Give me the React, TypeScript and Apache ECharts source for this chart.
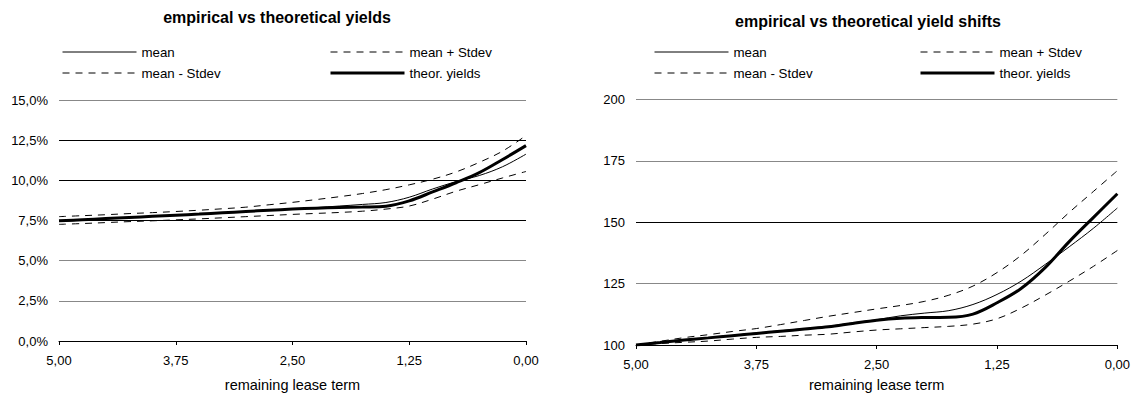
import { useEffect, useRef } from "react";
import * as echarts from "echarts";

// Remaining lease term (years), plotted from 5 down to 0
const term = [5, 4.75, 4.5, 4.25, 4, 3.75, 3.5, 3.25, 3, 2.75, 2.5, 2.25, 2, 1.75, 1.5, 1.25, 1, 0.75, 0.5, 0.25, 0];

// Yields in percent
const yieldMean = [7.44, 7.52, 7.6, 7.67, 7.75, 7.82, 7.89, 7.97, 8.05, 8.13, 8.21, 8.3, 8.4, 8.5, 8.62, 8.95, 9.46, 9.92, 10.3, 10.85, 11.63];
const yieldUpper = [7.74, 7.8, 7.86, 7.93, 7.99, 8.06, 8.14, 8.23, 8.33, 8.48, 8.63, 8.8, 8.98, 9.18, 9.42, 9.72, 10.07, 10.52, 11.12, 11.82, 12.79];
const yieldLower = [7.26, 7.31, 7.37, 7.43, 7.48, 7.54, 7.6, 7.67, 7.74, 7.81, 7.88, 7.94, 8.0, 8.08, 8.21, 8.4, 8.83, 9.32, 9.73, 10.15, 10.55];
const yieldTheor = [7.48, 7.55, 7.62, 7.69, 7.76, 7.83, 7.9, 7.98, 8.06, 8.14, 8.21, 8.27, 8.31, 8.34, 8.39, 8.72, 9.28, 9.85, 10.48, 11.3, 12.16];

// Yield shifts, indexed to 100 at a remaining term of 5 years
const shiftMean = [100, 101.0, 102.0, 103.0, 103.9, 104.9, 105.8, 106.7, 107.6, 109.0, 110.3, 111.9, 113.0, 114.0, 116.5, 120.6, 126.0, 132.8, 140.0, 147.5, 155.8];
const shiftUpper = [100, 101.5, 103.0, 104.2, 105.5, 106.7, 108.3, 110.0, 111.7, 113.2, 114.7, 116.1, 117.8, 120.3, 124.0, 129.5, 136.5, 145.0, 154.0, 162.5, 171.0];
const shiftLower = [100, 100.6, 101.1, 101.6, 102.4, 103.1, 103.5, 104.0, 104.4, 105.3, 106.1, 106.6, 107.1, 107.6, 108.5, 110.7, 115.0, 120.3, 126.0, 132.0, 138.5];
const shiftTheor = [100, 101.0, 102.0, 102.9, 103.8, 104.7, 105.6, 106.5, 107.4, 108.8, 110.1, 110.9, 111.2, 111.3, 112.6, 117.2, 123.0, 131.5, 142.1, 151.9, 161.6];

const seriesNames = ["mean", "mean + Stdev", "mean - Stdev", "theor. yields"];
const chartTitles = ["empirical vs theoretical yields", "empirical vs theoretical yield shifts"];
const axisTitle = "remaining lease term";

const FONT = '"Liberation Sans", Arial, Helvetica, sans-serif';
const DASH = [7, 6];

const lineLooks: Record<string, { width: number; type: any }> = {
  "mean": { width: 1, type: "solid" },
  "mean + Stdev": { width: 1, type: DASH },
  "mean - Stdev": { width: 1, type: DASH },
  "theor. yields": { width: 3, type: "solid" },
};

const comma = (v: number, digits: number) => v.toFixed(digits).replace(".", ",");

function pairs(values: number[]) {
  return term.map((t, i) => [t, values[i]]);
}

function lineSeries(name: string, values: number[], axisIndex: number) {
  const look = lineLooks[name];
  return {
    type: "line",
    name,
    xAxisIndex: axisIndex,
    yAxisIndex: axisIndex,
    data: pairs(values),
    smooth: 0.35,
    symbol: "none",
    silent: true,
    itemStyle: { color: "#000" },
    lineStyle: { color: "#000", width: look.width, type: look.type },
    z: name === "theor. yields" ? 4 : 3,
  };
}

function legendColumn(left: number, names: string[]) {
  return {
    orient: "vertical",
    left,
    top: 44,
    itemWidth: 74,
    itemHeight: 16,
    itemGap: 5,
    padding: 0,
    selectedMode: false,
    textStyle: { fontFamily: FONT, fontSize: 13.3, color: "#000", lineHeight: 16 },
    data: names.map((n) => ({
      name: n,
      itemStyle: { opacity: 0 },
      lineStyle: { color: "#000", width: lineLooks[n].width, type: lineLooks[n].type },
    })),
  };
}

function xAxisFor(gridIndex: number, nameGap: number) {
  return {
    type: "value",
    gridIndex,
    min: 0,
    max: 5,
    interval: 1.25,
    inverse: true,
    name: axisTitle,
    nameLocation: "middle",
    nameGap,
    nameTextStyle: { fontFamily: FONT, fontSize: 14.5, color: "#000" },
    axisLine: { show: true, lineStyle: { color: "#000", width: 1 } },
    axisTick: { show: true, length: 4, lineStyle: { color: "#000" } },
    axisLabel: { fontFamily: FONT, fontSize: 13, color: "#000", margin: 13, formatter: (v: number) => comma(v, 2) },
    splitLine: { show: false },
  };
}

function yAxisFor(gridIndex: number, min: number, max: number, interval: number, gridColors: string[], fmt: (v: number) => string) {
  return {
    type: "value",
    gridIndex,
    min,
    max,
    interval,
    axisLine: { show: false },
    axisTick: { show: false },
    axisLabel: { fontFamily: FONT, fontSize: 13, color: "#000", margin: 11, formatter: fmt },
    splitLine: { show: true, lineStyle: { color: gridColors, width: 1 } },
  };
}

export default function App() {
  const ref = useRef<HTMLDivElement>(null);

  useEffect(() => {
    if (!ref.current) return;
    const chart = echarts.init(ref.current, undefined, { renderer: "svg" });

    const yieldSets = [yieldMean, yieldUpper, yieldLower, yieldTheor];
    const shiftSets = [shiftMean, shiftUpper, shiftLower, shiftTheor];

    chart.setOption({
      animation: false,
      backgroundColor: "#fff",
      textStyle: { fontFamily: FONT },
      graphic: [
        {
          type: "text",
          x: 277,
          y: 17,
          style: { text: chartTitles[0], fill: "#000", font: `bold 16px ${FONT}`, align: "center", verticalAlign: "middle" },
        },
        {
          type: "text",
          x: 868,
          y: 21,
          style: { text: chartTitles[1], fill: "#000", font: `bold 16px ${FONT}`, align: "center", verticalAlign: "middle" },
        },
      ],
      legend: [
        legendColumn(62, [seriesNames[0], seriesNames[2]]),
        legendColumn(329, [seriesNames[1], seriesNames[3]]),
        legendColumn(654, [seriesNames[0], seriesNames[2]]),
        legendColumn(919, [seriesNames[1], seriesNames[3]]),
      ],
      grid: [
        { left: 59, top: 100, width: 467, height: 242, containLabel: false },
        { left: 636, top: 99.5, width: 482, height: 247, containLabel: false },
      ],
      xAxis: [xAxisFor(0, 36), xAxisFor(1, 32)],
      yAxis: [
        yAxisFor(0, 0, 15, 2.5, ["#000", "#888", "#888", "#000", "#000", "#000", "#888"], (v) => comma(v, 1) + "%"),
        yAxisFor(1, 100, 200, 25, ["#000", "#888", "#000", "#888", "#888"], (v) => String(v)),
      ],
      series: [
        ...seriesNames.map((n, i) => lineSeries(n, yieldSets[i], 0)),
        ...seriesNames.map((n, i) => lineSeries(n, shiftSets[i], 1)),
      ],
    });

    return () => chart.dispose();
  }, []);

  return <div ref={ref} style={{ position: "absolute", left: 0, top: 0, width: 1133, height: 397 }} />;
}
